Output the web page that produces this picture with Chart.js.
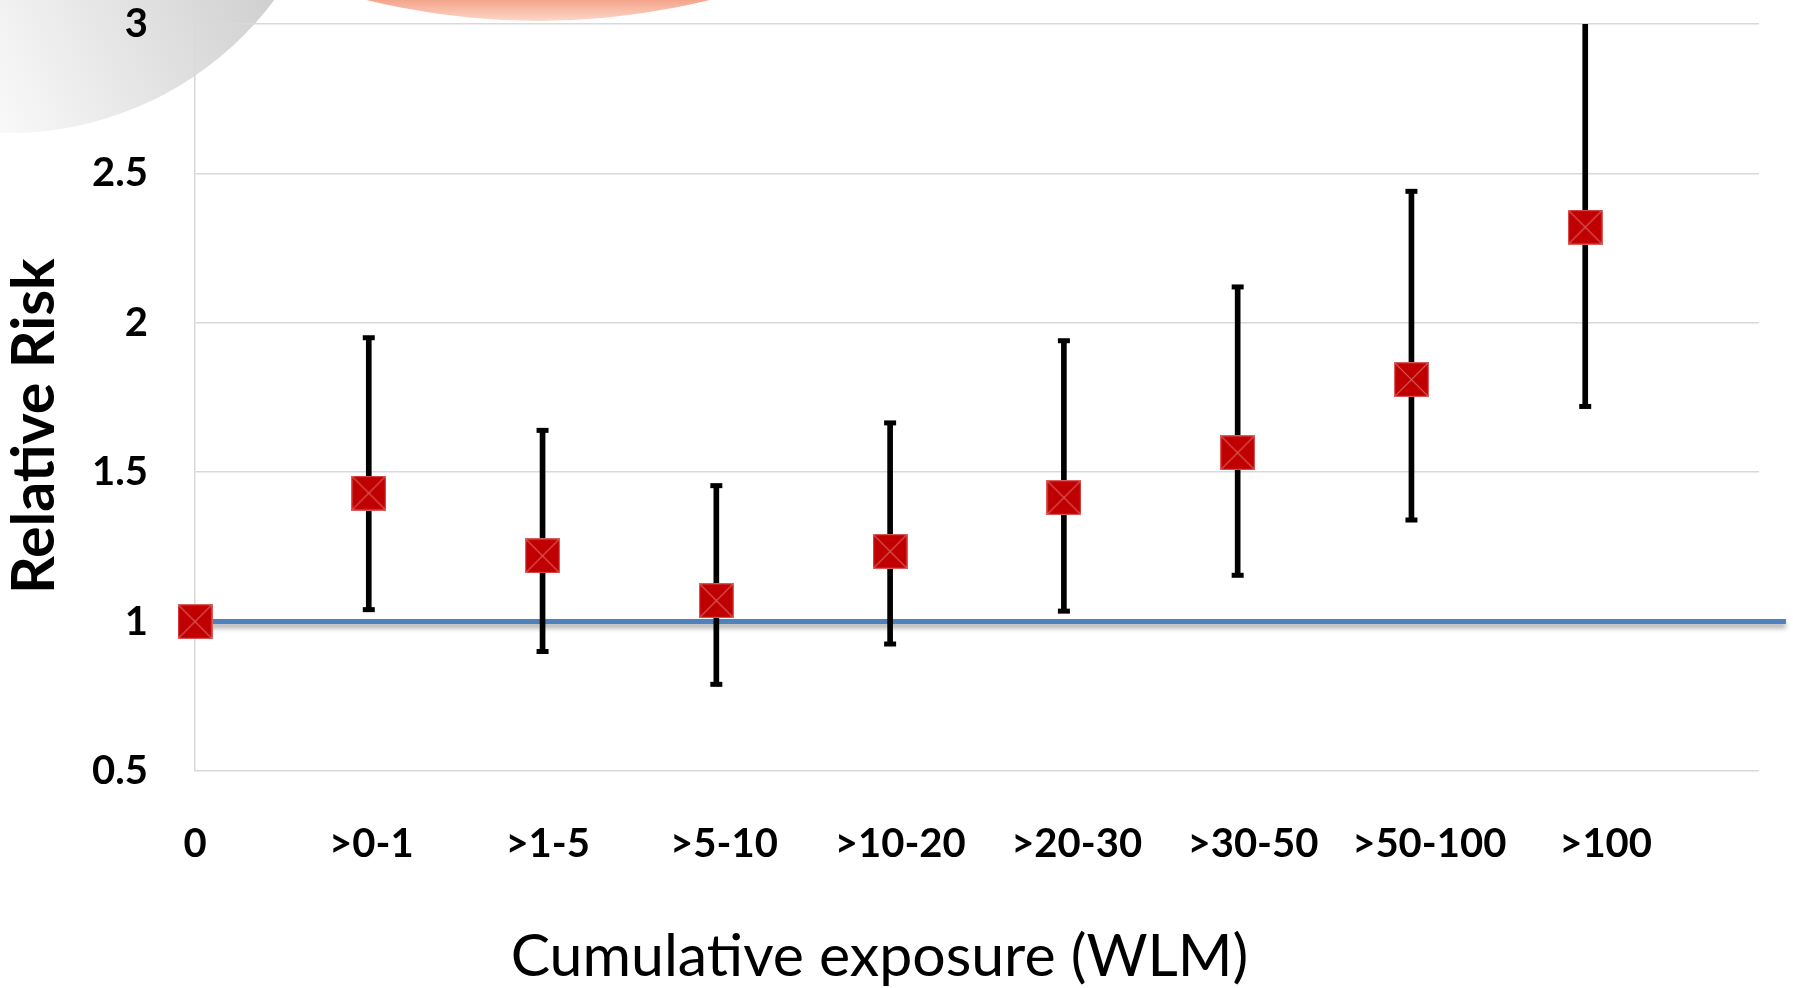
<!DOCTYPE html>
<html>
<head>
<meta charset="utf-8">
<title>Relative risk by cumulative exposure</title>
<script src="https://cdn.jsdelivr.net/npm/chart.js@4.4.1/dist/chart.umd.min.js"></script>
<style>
    html, body { margin: 0; padding: 0; background: #fff; }
    canvas { display: block; }
</style>
</head>
<body>
<canvas id="chart" width="1793" height="988"></canvas>
<script>
const categories = ['0', '>0-1', '>1-5', '>5-10', '>10-20', '>20-30', '>30-50', '>50-100', '>100'];
const relativeRisk = [1.00, 1.43, 1.22, 1.07, 1.235, 1.415, 1.565, 1.81, 2.32];
const ciLow = [null, 1.04, 0.90, 0.79, 0.925, 1.035, 1.155, 1.34, 1.72];
const ciHigh = [null, 1.95, 1.64, 1.455, 1.665, 1.94, 2.12, 2.44, 3.2]; // last one runs off the top of the plot
const referenceRisk = 1;
const referenceEnd = 9.155;   // the blue line overshoots the plot a little
const yMin = 0.5, yMax = 3, yStep = 0.5;
const labelAxisMax = 8.87;    // category labels were spread a bit wider than the points in the original

// red square with a faint X, like the Excel marker
function makeMarker(size) {
    const c = document.createElement('canvas');
    c.width = size;
    c.height = size;
    const g = c.getContext('2d');
    g.fillStyle = '#C00000';
    g.fillRect(0, 0, size, size);
    g.strokeStyle = '#DA5C5C';
    g.lineWidth = 1.2;
    g.strokeRect(0.6, 0.6, size - 1.2, size - 1.2);
    g.beginPath();
    g.moveTo(0, 0); g.lineTo(size, size);
    g.moveTo(size, 0); g.lineTo(0, size);
    g.stroke();
    return c;
}

// slide background bits behind the chart
const slideBackdrop = {
    id: 'slideBackdrop',
    beforeDraw(chart) {
        const ctx = chart.ctx;
        ctx.save();
        let g = ctx.createLinearGradient(0, 130, 280, 0);
        g.addColorStop(0, '#f9f9f9');
        g.addColorStop(1, '#cfcfcf');
        ctx.fillStyle = g;
        ctx.beginPath();
        ctx.arc(9, -198, 331, 0, Math.PI * 2);
        ctx.fill();

        g = ctx.createLinearGradient(0, 0, 0, 21);
        g.addColorStop(0, '#f4a58b');
        g.addColorStop(1, '#fcd6c9');
        ctx.fillStyle = g;
        ctx.beginPath();
        ctx.arc(538, -690, 711, 0, Math.PI * 2);
        ctx.fill();
        ctx.restore();
    }
};

// soft drop shadow under the reference line
const lineShadow = {
    id: 'lineShadow',
    beforeDatasetDraw(chart, args) {
        if (!chart.data.datasets[args.index].shadow) return;
        const ctx = chart.ctx;
        ctx.save();
        ctx.shadowColor = 'rgba(0, 0, 0, 0.35)';
        ctx.shadowBlur = 5;
        ctx.shadowOffsetY = 4;
    },
    afterDatasetDraw(chart, args) {
        if (chart.data.datasets[args.index].shadow) chart.ctx.restore();
    }
};

function drawChart() {
    const chart = document.querySelector('#chart').getContext('2d');
    const tickFont = { family: 'Lato', weight: 'bold', size: 40, lineHeight: 1.2 };

    new Chart(chart, {
        type: 'scatter',
        data: {
            datasets: [
                {
                    label: 'Relative risk',
                    data: relativeRisk.map((v, i) => ({ x: i, y: v })),
                    pointStyle: makeMarker(35),
                    pointRadius: 18,
                    pointHoverRadius: 18,
                    clip: false,
                    order: 0
                },
                {
                    label: 'Lower limit',
                    data: ciLow.map((v, i) => ({ x: i, y: v })).filter(d => d.y !== null),
                    pointStyle: 'line',
                    pointRadius: 6,
                    pointHoverRadius: 6,
                    pointBorderColor: '#000',
                    pointBorderWidth: 5,
                    clip: 0,
                    order: 1
                },
                {
                    label: 'Upper limit',
                    data: ciHigh.map((v, i) => ({ x: i, y: v })).filter(d => d.y !== null),
                    pointStyle: 'line',
                    pointRadius: 6,
                    pointHoverRadius: 6,
                    pointBorderColor: '#000',
                    pointBorderWidth: 5,
                    clip: 0,
                    order: 1
                },
                {
                    type: 'bar',
                    label: '95% CI',
                    data: ciLow.map((v, i) => ({ x: i, y: v === null ? null : [v, ciHigh[i]] })).filter(d => d.y !== null),
                    backgroundColor: '#000',
                    borderWidth: 0,
                    barThickness: 5,
                    clip: 0,
                    order: 2
                },
                {
                    type: 'line',
                    label: 'Reference',
                    data: [{ x: 0, y: referenceRisk }, { x: referenceEnd, y: referenceRisk }],
                    borderColor: '#4F81BD',
                    borderWidth: 5,
                    pointRadius: 0,
                    clip: false,
                    shadow: true,
                    order: 3
                }
            ]
        },
        options: {
            responsive: false,
            animation: false,
            layout: { padding: { top: 24, right: 34, bottom: 0, left: 0 } },
            plugins: {
                legend: { display: false },
                tooltip: { enabled: false },
                title: {
                    display: true,
                    position: 'bottom',
                    text: 'Cumulative exposure (WLM)',
                    color: '#000',
                    font: { family: 'Lato', weight: 'normal', size: 59, lineHeight: 1 },
                    padding: { top: 60.5, bottom: 1.5 }
                }
            },
            scales: {
                // the points sit on this one
                x: {
                    type: 'linear',
                    display: false,
                    min: 0,
                    max: 9,
                    offset: false,
                    grid: { offset: false }
                },
                // category names, on their own slightly wider spacing
                xLabels: {
                    type: 'linear',
                    position: 'bottom',
                    min: 0,
                    max: labelAxisMax,
                    offset: false,
                    ticks: {
                        stepSize: 1,
                        autoSkip: false,
                        maxRotation: 0,
                        padding: 41,
                        color: '#000',
                        font: tickFont,
                        callback: v => categories[v] ?? ''
                    },
                    grid: { display: false },
                    border: { display: false },
                    afterFit: s => {
                        s.height = 96;
                        s.paddingLeft = 0;
                        s.paddingRight = 0;
                    }
                },
                y: {
                    min: yMin,
                    max: yMax,
                    beginAtZero: false,
                    ticks: {
                        stepSize: yStep,
                        padding: 47,
                        color: '#000',
                        font: tickFont,
                        callback: v => String(v)
                    },
                    grid: { color: '#D9D9D9', lineWidth: 1.5, drawTicks: false },
                    border: { display: true, color: '#D9D9D9', width: 1.5 },
                    title: {
                        display: true,
                        // trailing spaces nudge the title down, it sits below the axis centre in the original
                        text: 'Relative Risk    ',
                        color: '#000',
                        font: { family: 'Lato', weight: 'bold', size: 59, lineHeight: 1.2 },
                        padding: { top: 0, bottom: 0 }
                    },
                    afterFit: s => {
                        s.width = 195;
                        // tick padding would otherwise push the plot top down
                        s.paddingTop = 0;
                        s.paddingBottom = 0;
                    }
                }
            }
        },
        plugins: [slideBackdrop, lineShadow]
    });
}

Promise.all([
    document.fonts.load('bold 40px Lato'),
    document.fonts.load('59px Lato')
]).finally(drawChart);
</script>
</body>
</html>
